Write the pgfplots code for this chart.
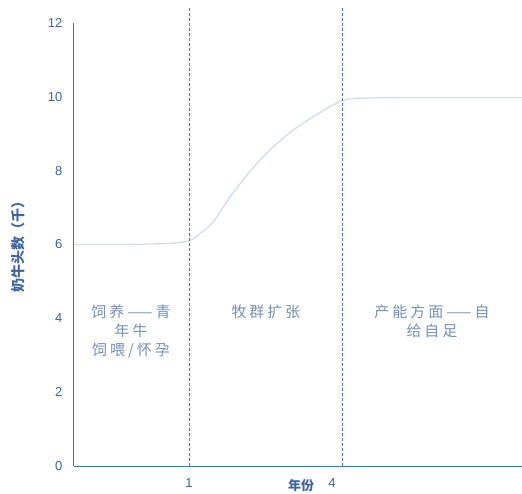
\documentclass[border=0pt]{standalone}
\usepackage{pgfplots}
\pgfplotsset{compat=1.18}
\usepackage{fontspec}
\setmainfont{Liberation Sans}
\newfontfamily\cjk{Noto Sans CJK SC}
\newfontfamily\cjksp[LetterSpace=20]{Noto Sans CJK SC}
\definecolor{axblue}{HTML}{4A6FA5}
\definecolor{txtblue}{HTML}{3F64A0}
\definecolor{curve}{HTML}{D3DDEB}
\definecolor{lbl}{HTML}{7590B8}
\begin{document}
\begin{tikzpicture}
\begin{axis}[
  scale only axis, width=448pt, height=443pt,
  xmin=74, xmax=522, ymin=0, ymax=12,
  axis lines=left, axis line style={axblue, line width=1pt, -},
  ytick={0,2,...,12}, xtick={189,332}, xticklabels={1,4},
  tick style={draw=none},
  ticklabel style={font=\fontsize{13}{15}\selectfont, text=txtblue},
  /pgf/number format/assume math mode=true,
  yticklabel style={xshift=-6pt},
  xticklabel style={yshift=-7pt},
  clip=false,
]
\addplot[curve, line width=1.3pt, smooth] coordinates {
 (74,6.0) (120,6.0) (160,6.02) (180,6.05) (191,6.12) (200,6.3) (213,6.6)
 (233,7.4) (260,8.29) (287,8.97) (313,9.46) (343,9.9) (370,9.97) (420,9.98) (522,9.98)};
\addplot[axblue, densely dashed, line width=0.8pt] coordinates {(189,0) (189,12.4)};
\addplot[axblue, densely dashed, line width=0.8pt] coordinates {(342,0) (342,12.4)};
\node[lbl, align=center, font=\cjksp\fontsize{15}{19}\selectfont, anchor=north] at (axis cs:131,4.45) {饲养——青\\年牛\\饲喂/怀孕};
\node[lbl, align=center, font=\cjksp\fontsize{15}{19}\selectfont, anchor=north] at (axis cs:266,4.45) {牧群扩张};
\node[lbl, align=center, font=\cjksp\fontsize{15}{19}\selectfont, anchor=north] at (axis cs:432,4.45) {产能方面——自\\给自足};
\node[txtblue, font=\cjk\bfseries\fontsize{14}{16}\selectfont, rotate=90] at (axis cs:18,6.04) {奶牛头数（千）};
\node[txtblue, font=\cjk\bfseries\fontsize{13}{15}\selectfont] at (axis cs:301,-0.53) {年份};
\coordinate (sw) at (axis cs:0,0);
\coordinate (ne) at (axis cs:522,12);
\end{axis}
\pgfresetboundingbox
\path ([yshift=-27pt]sw) rectangle ([yshift=23pt]ne);
\end{tikzpicture}
\end{document}
